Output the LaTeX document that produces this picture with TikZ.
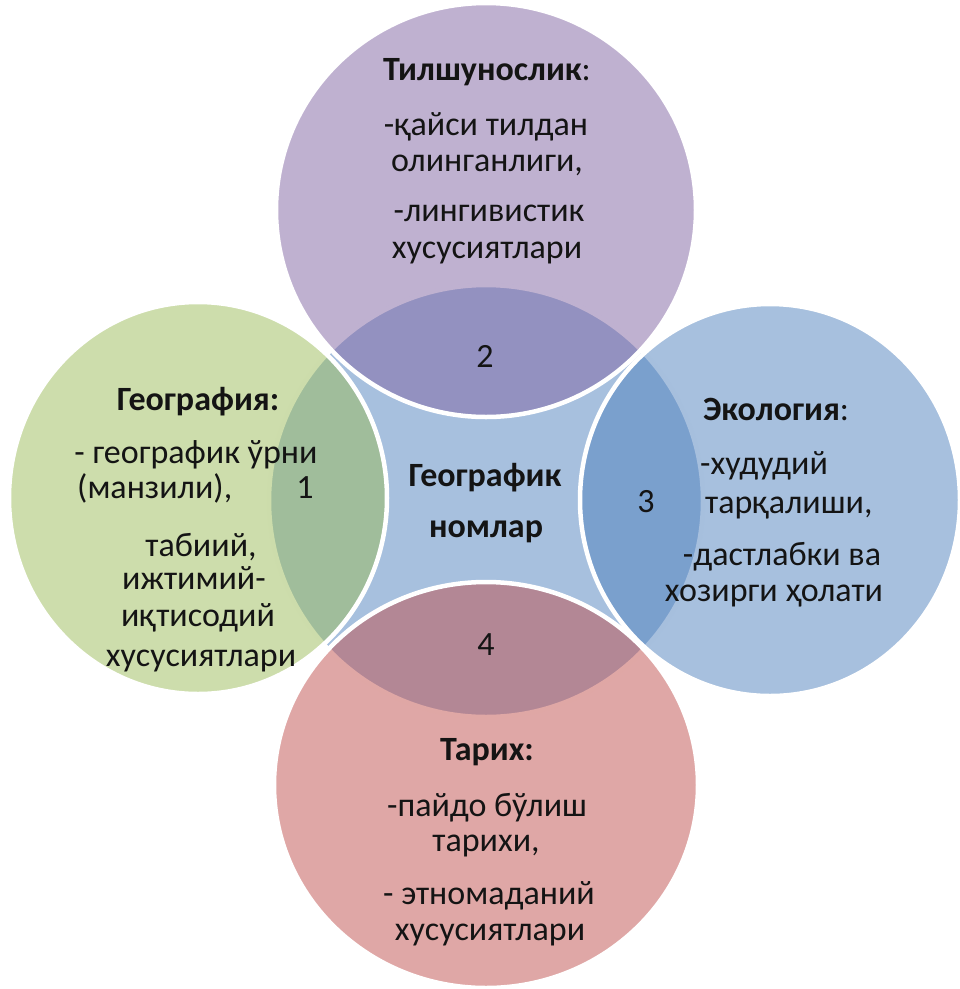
\documentclass[tikz,border=0pt]{standalone}
\usepackage{fontspec}
\usetikzlibrary{shapes.geometric}
\setmainfont{Carlito}
\definecolor{cBlue}{HTML}{4F81BD}
\definecolor{cPurple}{HTML}{8064A2}
\definecolor{cRed}{HTML}{C0504D}
\definecolor{cGreen}{HTML}{9BBB59}
\definecolor{cText}{HTML}{141414}
\begin{document}
\begin{tikzpicture}[x=1pt,y=-1pt,
  ring/.style 2 args={ellipse, draw=white, line width=4.5pt, fill opacity=0.5, inner sep=0pt, minimum width=#1, minimum height=#2},
  txt/.style={font=\fontsize{34}{38}\selectfont, text=cText, inner sep=0pt, anchor=base},
  txtw/.style={txt, anchor=base west}]
\useasboundingbox (0,0) rectangle (960,989);
% circles
\node[ring={434pt}{432pt}, fill=cBlue] (mid) at (486,501) {};
\node[ring={420pt}{414pt}, fill=cPurple] (top) at (486,210) {};
\node[ring={380pt}{392pt}, fill=cBlue] (right) at (770,500) {};
\node[ring={424pt}{406pt}, fill=cRed] (bot) at (486,785) {};
\node[ring={378pt}{392pt}, fill=cGreen] (left) at (198,498) {};
% top text
\node[txt] (t0) at (487,80) {\textbf{Тилшунослик}:};
\node[txt] (t1) at (486,135) {-қайси тилдан};
\node[txt] (t2) at (487,171) {олинганлиги,};
\node[txt] (t3) at (489,221) {-лингивистик};
\node[txt] (t4) at (487,258) {хусусиятлари};
% left text
\node[txt] (l0) at (198,410) {\textbf{География:}};
\node[txt] (l1) at (196,463) {- географик ўрни};
\node[txtw] (l2) at (77,498) {(манзили),};
\node[txt] (l3) at (201,556) {табиий,};
\node[txt] (l4) at (194,589) {ижтимий-};
\node[txt] (l5) at (198,626) {иқтисодий};
\node[txt] (l6) at (201,666) {хусусиятлари};
% right text
\node[txt] (r0) at (776,420) {\textbf{Экология}:};
\node[txtw] (r1) at (700,474) {-худудий};
\node[txtw] (r2) at (705,513) {тарқалиши,};
\node[txt] (r3) at (782,565) {-дастлабки ва};
\node[txt] (r4) at (774,601) {хозирги ҳолати};
% bottom text
\node[txt] (b0) at (487,760) {\textbf{Тарих:}};
\node[txt] (b1) at (487,816) {-пайдо бўлиш};
\node[txt] (b2) at (486,851) {тарихи,};
\node[txt] (b3) at (489,904) {- этномаданий};
\node[txt] (b4) at (490,940) {хусусиятлари};
% centre text
\node[txt] (c0) at (485,486) {\textbf{Географик}};
\node[txt] (c1) at (486,537) {\textbf{номлар}};
% numbers
\node[txt] (n1) at (305,498) {1};
\node[txt] (n2) at (485,367) {2};
\node[txt] (n3) at (646,512) {3};
\node[txt] (n4) at (486,655) {4};
\end{tikzpicture}
\end{document}
